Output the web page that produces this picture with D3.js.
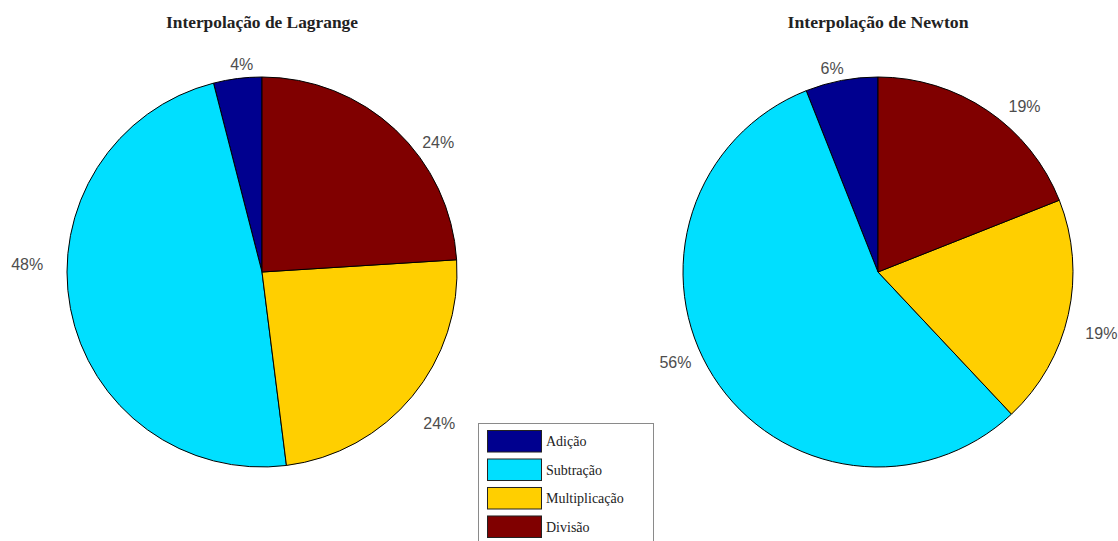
<!DOCTYPE html>
<html>
<head>
<meta charset="utf-8">
<script src="https://cdn.jsdelivr.net/npm/d3@7"></script>
<style>
  html, body { margin: 0; padding: 0; background: #fff; }
  svg { display: block; }
</style>
</head>
<body>
<svg id="chart" width="1118" height="541"></svg>
<script>
// Operation categories, in plotting order (counter-clockwise from 12 o'clock)
const categories = ["Adição", "Subtração", "Multiplicação", "Divisão"];
const colors = ["#00008F", "#00DFFF", "#FFCF00", "#800000"];

// Share of each operation (%) for the two interpolation methods
const lagrangeValues = [4, 48, 24, 24];
const newtonValues = [6, 56, 19, 19];

const titles = ["Interpolação de Lagrange", "Interpolação de Newton"];

// Layout
const radius = 195;
const centers = [[262, 272], [878, 272]];
const labelRadius = 1.2 * radius;
// Hand-placed shifts for the percentage labels (px), per pie, per slice
const labelShift = [
  [[9, 25], [-5, -51], [-3, 2], [16, 41]],
  [[-2, 26], [-5, -35], [-5, 10], [15, 28]]
];
const titleWidths = [192, 181];

const svg = d3.select("#chart");

const pie = d3.pie()
  .sort(null)
  .value(d => d.value)
  .startAngle(0)
  .endAngle(-2 * Math.PI);

const arc = d3.arc().innerRadius(0).outerRadius(radius);
const labelArc = d3.arc().innerRadius(labelRadius).outerRadius(labelRadius);

[lagrangeValues, newtonValues].forEach((vals, p) => {
  const data = categories.map((c, i) => ({ name: c, value: vals[i], color: colors[i] }));
  const total = d3.sum(vals);
  const g = svg.append("g").attr("transform", `translate(${centers[p][0]},${centers[p][1]})`);

  g.selectAll("path.slice")
    .data(pie(data))
    .join("path")
    .attr("class", "slice")
    .attr("d", arc)
    .attr("fill", d => d.data.color)
    .attr("stroke", "#000")
    .attr("stroke-width", 1);

  g.selectAll("text.pct")
    .data(pie(data))
    .join("text")
    .attr("class", "pct")
    .attr("x", (d, i) => labelArc.centroid(d)[0] + labelShift[p][i][0])
    .attr("y", (d, i) => labelArc.centroid(d)[1] + labelShift[p][i][1])
    .attr("text-anchor", "middle")
    .attr("dominant-baseline", "central")
    .attr("font-family", "'Liberation Sans', Arial, sans-serif")
    .attr("font-size", 16)
    .attr("fill", "#4d4d4d")
    .text(d => Math.round(d.data.value / total * 100) + "%");

  svg.append("text")
    .attr("x", centers[p][0])
    .attr("y", 28)
    .attr("text-anchor", "middle")
    .attr("font-family", "'Liberation Serif', 'Times New Roman', serif")
    .attr("font-weight", "bold")
    .attr("font-size", 16)
    .attr("textLength", titleWidths[p])
    .attr("lengthAdjust", "spacingAndGlyphs")
    .attr("fill", "#222")
    .text(titles[p]);
});

// Legend
const legend = svg.append("g").attr("transform", "translate(478,423)");
legend.append("rect")
  .attr("x", 0.5).attr("y", 0.5)
  .attr("width", 175).attr("height", 130)
  .attr("fill", "#fff")
  .attr("stroke", "#8a8a8a")
  .attr("stroke-width", 1);

const rowY = d3.scaleBand().domain(categories).range([7, 114]).paddingInner(0.245);

const items = legend.selectAll("g.item")
  .data(categories)
  .join("g")
  .attr("class", "item")
  .attr("transform", d => `translate(0,${rowY(d)})`);

items.append("rect")
  .attr("x", 9.5).attr("y", 0.5)
  .attr("width", 54).attr("height", rowY.bandwidth())
  .attr("fill", (d, i) => colors[i])
  .attr("stroke", "#222")
  .attr("stroke-width", 1);

items.append("text")
  .attr("x", 68)
  .attr("y", rowY.bandwidth() / 2 + 1)
  .attr("dominant-baseline", "central")
  .attr("font-family", "'Liberation Serif', 'Times New Roman', serif")
  .attr("font-size", 14)
  .attr("fill", "#222")
  .text(d => d);
</script>
</body>
</html>
